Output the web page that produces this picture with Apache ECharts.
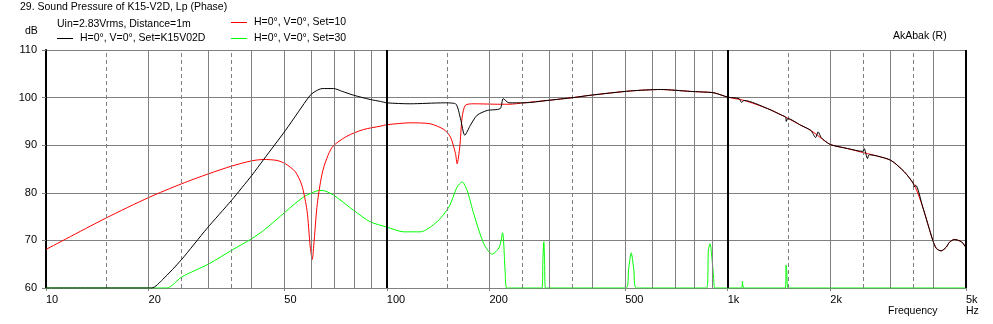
<!DOCTYPE html>
<html><head><meta charset="utf-8">
<script src="https://cdn.jsdelivr.net/npm/echarts@6/dist/echarts.min.js"></script>
<style>html,body{margin:0;padding:0;background:#fff}#c{width:993px;height:324px}</style>
</head><body><div id="c"></div>
<script>
const xTickLabels = [10, 20, 50, 100, 200, 500, 1000, 2000, 5000];
const yMin = 60, yMax = 110, yStep = 10;
const gridSolid = [20, 30, 40, 50, 60, 70, 80, 90, 200, 300, 400, 500, 600, 700, 800, 900, 2000, 3000, 4000];
const gridDashed = [15, 25, 35, 150, 250, 350, 1500, 2500, 3500];
const gridDecade = [100, 1000, 5000];

const nameBlack = 'H=0°, V=0°, Set=K15V02D';
const nameRed = 'H=0°, V=0°, Set=10';
const nameGreen = 'H=0°, V=0°, Set=30';

const blackFreq = [10, 20.4, 22, 25, 29.65, 35, 40.2, 43.5, 50.4, 55, 59.6, 62, 64.6, 69.8, 74, 79.9, 89.4, 95.7, 100, 117, 147, 159, 164.4, 169.3, 175.8, 184, 197, 215, 219.4, 228, 252.5, 295.5, 352, 396, 519, 635, 778, 833, 912, 1000, 1080, 1097, 1117, 1308, 1440, 1479, 1485, 1500, 1637, 1753, 1811, 1841, 1880, 1919, 2006, 2245, 2490, 2513, 2571, 2600, 2752, 3013, 3297, 3500, 3528, 3560, 3733, 3996, 4093, 4227, 4378, 4470, 4624, 4850, 5000];
const blackDb = [60, 60, 61.8, 66.0, 72.5, 78.4, 83.7, 87.0, 93.1, 97.0, 100.5, 101.4, 101.9, 101.9, 101.3, 100.5, 99.6, 99.2, 98.9, 98.7, 98.9, 98.7, 95.6, 92.1, 94.2, 96.3, 97.3, 97.7, 99.8, 98.9, 98.9, 99.4, 100.0, 100.5, 101.4, 101.7, 101.3, 101.2, 101.0, 100.1, 99.8, 99.0, 99.4, 97.7, 96.3, 95.9, 95.0, 95.6, 94.2, 93.1, 91.6, 92.8, 91.6, 91.0, 90.1, 89.3, 88.7, 89.3, 87.2, 88.0, 87.7, 86.8, 84.4, 82.0, 81.2, 81.6, 77.0, 70.0, 68.3, 67.8, 68.6, 69.6, 70.2, 69.7, 68.5];

const redFreq = [10, 15, 20, 25, 30, 35, 40, 43.5, 47.6, 50.4, 53.9, 56.3, 58.3, 59.6, 60.4, 61.2, 62.5, 64.9, 69, 76.4, 85.5, 95.7, 100, 117, 134, 147, 153.7, 159, 160.7, 163.6, 166.3, 170, 179.8, 215, 228, 252.5, 295.5, 352, 396, 519, 635, 778, 833, 912, 1000, 1117, 1308, 1479, 1637, 1753, 1919, 2006, 2245, 2513, 2752, 3013, 3297, 3528, 3733, 3996, 4093, 4227, 4378, 4470, 4624, 4850, 5000];
const redDb = [68.1, 74.7, 79.0, 81.9, 84.0, 85.6, 86.7, 87.0, 86.8, 86.1, 84.4, 81.6, 76.3, 68.6, 66.0, 70.0, 77.7, 84.7, 89.5, 91.9, 93.3, 94.0, 94.3, 94.7, 94.5, 93.3, 91.7, 88.2, 86.1, 89.6, 95.9, 98.4, 98.7, 98.6, 98.6, 98.9, 99.4, 100.0, 100.5, 101.4, 101.7, 101.3, 101.2, 101.0, 100.1, 99.4, 97.7, 95.9, 94.2, 93.1, 91.0, 90.1, 89.3, 88.4, 87.7, 86.8, 84.4, 81.6, 77.0, 70.0, 68.3, 67.8, 68.6, 69.6, 70.2, 69.7, 68.5];

const greenFreq = [10, 22.6, 25, 30.1, 35, 40.2, 43.5, 50.4, 56.9, 62.3, 64.6, 69.8, 79.9, 89.4, 100, 112, 125.4, 140.3, 152, 160.7, 166.3, 172, 179.8, 192.5, 203.7, 213.8, 218.5, 222.5, 225, 284.9, 286.9, 288.7, 290.1, 292.1, 504, 512, 521, 530, 539, 867.5, 877.6, 887.2, 895.6, 909.7, 917.7, 1099, 1104, 1117, 1477, 1483, 1490, 1503, 5000];
const greenDb = [60, 60, 62.3, 65.1, 67.9, 70.4, 72.1, 76.0, 79.1, 80.4, 80.5, 79.5, 76.3, 73.9, 72.8, 71.8, 71.8, 73.9, 77.0, 81.2, 82.3, 80.5, 75.6, 69.3, 67.1, 68.6, 71.6, 63.0, 60, 60, 66, 69.7, 66, 60, 60, 64, 67.4, 64, 60, 60, 68, 69.3, 67.5, 62, 60, 60, 61.4, 60, 60, 64.8, 63.5, 60, 60];

function zip(a, b) { return a.map((v, i) => [v, b[i]]); }

const FONT = 'Liberation Sans';
const GRAY = '#808080';
const txt = (size) => ({ fontSize: size, fontWeight: 'normal', color: '#000', fontFamily: FONT });

const gridLines = []
  .concat(gridSolid.map(v => ({ xAxis: v, lineStyle: { color: GRAY, width: 1, type: 'solid' } })))
  .concat(gridDashed.map(v => ({ xAxis: v, lineStyle: { color: GRAY, width: 1, type: [4, 3] } })))
  .concat(gridDecade.map(v => ({ xAxis: v, lineStyle: { color: '#000', width: 2, type: 'solid' } })));

const chart = echarts.init(document.getElementById('c'), null, { renderer: 'canvas' });
const legendBase = {
  padding: 0, itemWidth: 16, itemHeight: 1, icon: 'rect', selectedMode: false,
  textStyle: Object.assign(txt(10.5), { padding: [0, 0, 0, 2] })
};
chart.setOption({
  animation: false,
  backgroundColor: '#fff',
  title: [
    { text: '29. Sound Pressure of K15-V2D, Lp (Phase)', left: 20, top: 2, padding: 0, textStyle: txt(10.5) },
    { text: 'Uin=2.83Vrms, Distance=1m', left: 57, top: 19, padding: 0, textStyle: txt(10.5) },
    { text: 'dB', left: 25, top: 26, padding: 0, textStyle: txt(10.5) },
    { text: 'AkAbak (R)', left: 893, top: 31, padding: 0, textStyle: txt(10.5) },
    { text: 'Frequency', left: 888, top: 306, padding: 0, textStyle: txt(10.5) },
    { text: 'Hz', left: 966, top: 306, padding: 0, textStyle: txt(10.5) }
  ],
  legend: [
    Object.assign({ data: [nameBlack], left: 57, top: 33 }, legendBase),
    Object.assign({ data: [nameRed], left: 231, top: 17 }, legendBase),
    Object.assign({ data: [nameGreen], left: 231, top: 33 }, legendBase)
  ],
  grid: { left: 46, top: 50, width: 920, height: 238, containLabel: false },
  xAxis: {
    type: 'log', logBase: 10, min: 10, max: 5000,
    axisLine: { show: true, lineStyle: { color: GRAY, width: 1 } },
    axisTick: { show: true, length: 3, customValues: xTickLabels, lineStyle: { color: GRAY } },
    splitLine: { show: false },
    minorTick: { show: false },
    axisLabel: {
      customValues: xTickLabels, align: 'left', margin: 6, ...txt(11),
      formatter: v => { const r = Math.round(v); return r >= 1000 ? (r / 1000) + 'k' : String(r); }
    }
  },
  yAxis: {
    type: 'value', min: yMin, max: yMax, interval: yStep,
    axisLine: { show: true, lineStyle: { color: '#000', width: 2 } },
    axisTick: { show: true, length: 4, lineStyle: { color: GRAY } },
    splitLine: { show: true, lineStyle: { color: GRAY, width: 1 } },
    axisLabel: { margin: 9, ...txt(11), verticalAlign: 'middle', padding: [0, 0, 7, 0] }
  },
  series: [
    {
      name: 'grid', type: 'line', data: [[10, 60]], symbol: 'none', z: 1, silent: true,
      lineStyle: { opacity: 0 },
      markLine: { silent: true, symbol: ['none', 'none'], label: { show: false }, animation: false, data: gridLines }
    },
    { name: nameGreen, type: 'line', data: zip(greenFreq, greenDb), symbol: 'none', z: 3, smooth: 0.25,
      lineStyle: { color: '#00ff00', width: 1 }, itemStyle: { color: '#00ff00' } },
    { name: nameRed, type: 'line', data: zip(redFreq, redDb), symbol: 'none', z: 4, smooth: 0.25,
      lineStyle: { color: '#ff0000', width: 1 }, itemStyle: { color: '#ff0000' } },
    { name: nameBlack, type: 'line', data: zip(blackFreq, blackDb), symbol: 'none', z: 5, smooth: 0.25,
      lineStyle: { color: '#000000', width: 1 }, itemStyle: { color: '#000000' } }
  ]
});
</script></body></html>
